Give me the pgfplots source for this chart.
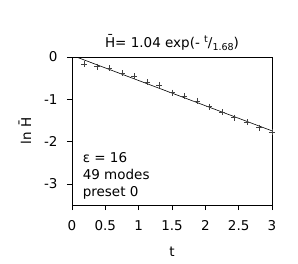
\documentclass[border=0pt]{standalone}
\usepackage{fontspec}
\setmainfont{DejaVu Sans}
\usepackage{pgfplots}
\pgfplotsset{compat=1.18}
\begin{document}
\begin{tikzpicture}
\path (-72bp,-59bp) rectangle (226bp,205bp);
\begin{axis}[
  at={(0,0)}, anchor=south west,
  scale only axis, width=200bp, height=148bp,
  xmin=0, xmax=3, ymin=-3.5, ymax=0,
  xtick={0,0.5,1,1.5,2,2.5,3},
  xticklabels={0,0.5,1,1.5,2,2.5,3},
  ytick={0,-1,-2,-3},
  yticklabels={0,-1,-2,-3},
  tick align=outside, tick pos=left,
  major tick length=5bp,
  tick style={black, line width=0.6pt},
  axis line style={black, line width=0.6pt},
  every tick label/.style={font=\fontsize{13.5bp}{15bp}\selectfont, black},
  xticklabel style={yshift=-7bp},
  yticklabel style={xshift=-6bp},
  /pgf/number format/assume math mode=true,
  xlabel={t}, ylabel={ln \=H},
  label style={font=\fontsize{13.5bp}{15bp}\selectfont},
  xlabel style={yshift=-9bp},
  ylabel style={yshift=6bp},
  title={\=H= 1.04 exp(- \raisebox{0.6ex}{\fontsize{9.5bp}{10bp}\selectfont t}/\raisebox{-0.4ex}{\fontsize{9.5bp}{10bp}\selectfont 1.68})},
  title style={font=\fontsize{13.5bp}{15bp}\selectfont, yshift=-3bp},
  clip=true,
]
\addplot[black, line width=0.6pt] coordinates {(0,0.039) (3,-1.747)};
\addplot[only marks, mark=+, mark size=3bp, black!75, mark options={line width=0.6pt}] coordinates {
(0.1875,-0.165) (0.375,-0.23) (0.5625,-0.27) (0.75,-0.385)
(0.9375,-0.45) (1.125,-0.60) (1.3125,-0.66) (1.5,-0.84)
(1.6875,-0.92) (1.875,-1.04) (2.0625,-1.175) (2.25,-1.31)
(2.4375,-1.435) (2.625,-1.545) (2.8125,-1.67) (3.0,-1.78)
};
\node[anchor=south west, inner sep=0pt, align=left, font=\fontsize{13.5bp}{17bp}\selectfont]
  at (rel axis cs:0.053,0.035) {ε = 16\\49 modes\\preset 0};
\end{axis}
\end{tikzpicture}
\end{document}
